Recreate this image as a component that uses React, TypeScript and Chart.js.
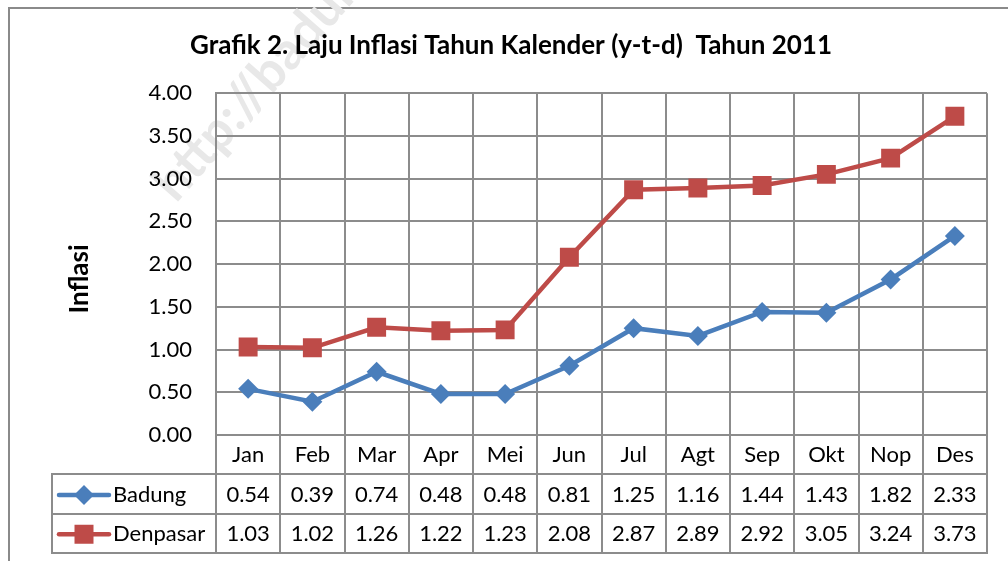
import React, { useEffect, useRef } from 'react';
import { Chart, registerables } from 'chart.js';

Chart.register(...registerables);

const months = ['Jan', 'Feb', 'Mar', 'Apr', 'Mei', 'Jun', 'Jul', 'Agt', 'Sep', 'Okt', 'Nop', 'Des'];
const badung = [0.54, 0.39, 0.74, 0.48, 0.48, 0.81, 1.25, 1.16, 1.44, 1.43, 1.82, 2.33];
const denpasar = [1.03, 1.02, 1.26, 1.22, 1.23, 2.08, 2.87, 2.89, 2.92, 3.05, 3.24, 3.73];
const seriesNames = ['Badung', 'Denpasar'];
const seriesColors = ['#4A7EBB', '#BE4B48'];
const yMin = 0;
const yMax = 4;
const yStep = 0.5;
const titleText = 'Grafik 2. Laju Inflasi Tahun Kalender (y-t-d)  Tahun 2011';
const yAxisTitle = 'Inflasi';
const watermarkText = 'http://badungkab.bps.go.id';

const FONT = 'Lato, "Open Sans", "Noto Sans", sans-serif';
const GRID = '#8c8c8c';
const ROW_H = 39.3;
const TXT = 22;
const PAD_LEFT = 35;

function drawMarker(ctx: CanvasRenderingContext2D, style: string, x: number, y: number, color: string) {
  ctx.save();
  ctx.fillStyle = color;
  ctx.beginPath();
  if (style === 'rect') {
    const s = 9.5;
    ctx.rect(x - s, y - s, 2 * s, 2 * s);
  } else {
    const r = 10;
    ctx.moveTo(x, y - r);
    ctx.lineTo(x + r, y);
    ctx.lineTo(x, y + r);
    ctx.lineTo(x - r, y);
    ctx.closePath();
  }
  ctx.fill();
  ctx.restore();
}

const framePlugin = {
  id: 'frameAndTable',
  beforeDraw(chart: any) {
    const ctx = chart.ctx as CanvasRenderingContext2D;
    ctx.save();
    ctx.fillStyle = '#ffffff';
    ctx.fillRect(0, 0, chart.width, chart.height);
    ctx.strokeStyle = '#8a8a8a';
    ctx.lineWidth = 2;
    ctx.beginPath();
    ctx.moveTo(9, chart.height);
    ctx.lineTo(9, 8);
    ctx.lineTo(chart.width, 8);
    ctx.stroke();

    // watermark (behind the plot)
    ctx.translate(176, 204);
    ctx.rotate(-0.85);
    ctx.font = `bold 52px ${FONT}`;
    ctx.fillStyle = '#e8e8e8';
    ctx.textAlign = 'left';
    ctx.textBaseline = 'alphabetic';
    ctx.fillText(watermarkText, 0, 0);
    ctx.restore();
  },
  afterDraw(chart: any) {
    const ctx = chart.ctx as CanvasRenderingContext2D;
    const xs = chart.scales.x;
    const area = chart.chartArea;
    const tableLeft = 52;
    const labelBottom = area.bottom + ROW_H;
    const row1Bottom = labelBottom + ROW_H;
    const row2Bottom = row1Bottom + ROW_H;
    ctx.save();
    ctx.strokeStyle = GRID;
    ctx.lineWidth = 2;
    ctx.beginPath();
    for (let i = 0; i <= months.length; i++) {
      const px = Math.round(xs.getPixelForValue(i - 0.5));
      ctx.moveTo(px, area.bottom);
      ctx.lineTo(px, row2Bottom);
    }
    ctx.moveTo(tableLeft, labelBottom);
    ctx.lineTo(tableLeft, row2Bottom);
    [labelBottom, row1Bottom, row2Bottom].forEach((yy) => {
      const py = Math.round(yy);
      ctx.moveTo(tableLeft - 1, py);
      ctx.lineTo(Math.round(xs.getPixelForValue(months.length - 0.5)) + 1, py);
    });
    ctx.stroke();

    const rows = [badung, denpasar];
    const styles = ['rectRot', 'rect'];
    ctx.font = `${TXT}px ${FONT}`;
    ctx.textBaseline = 'middle';
    rows.forEach((vals, r) => {
      const cy = labelBottom + ROW_H * r + ROW_H / 2 + 1;
      ctx.strokeStyle = seriesColors[r];
      ctx.lineWidth = 4.5;
      ctx.lineCap = 'round';
      ctx.beginPath();
      ctx.moveTo(59, cy);
      ctx.lineTo(109, cy);
      ctx.stroke();
      drawMarker(ctx, styles[r], 84, cy, seriesColors[r]);
      ctx.fillStyle = '#000';
      ctx.textAlign = 'left';
      ctx.fillText(seriesNames[r], 113, cy);
      ctx.textAlign = 'center';
      vals.forEach((v, i) => {
        ctx.fillText(v.toFixed(2), xs.getPixelForValue(i), cy);
      });
    });

    ctx.save();
    ctx.translate(80, 279);
    ctx.rotate(-Math.PI / 2);
    ctx.font = `bold 26px ${FONT}`;
    ctx.fillStyle = '#000';
    ctx.textAlign = 'center';
    ctx.textBaseline = 'middle';
    ctx.fillText(yAxisTitle, 0, 0);
    ctx.restore();

    ctx.restore();
  },
};

export default function App() {
  const ref = useRef<HTMLCanvasElement | null>(null);
  useEffect(() => {
    if (!ref.current) return;
    const chart = new Chart(ref.current, {
      type: 'line',
      data: {
        labels: months,
        datasets: [
          {
            label: seriesNames[0],
            data: badung,
            borderColor: seriesColors[0],
            backgroundColor: seriesColors[0],
            borderWidth: 4.5,
            pointStyle: 'rectRot',
            pointRadius: 10,
            pointBorderWidth: 0,
            pointHoverRadius: 10,
            tension: 0,
          },
          {
            label: seriesNames[1],
            data: denpasar,
            borderColor: seriesColors[1],
            backgroundColor: seriesColors[1],
            borderWidth: 4.5,
            pointStyle: 'rect',
            pointRadius: 13.4,
            pointBorderWidth: 0,
            pointHoverRadius: 13.4,
            tension: 0,
          },
        ],
      },
      options: {
        responsive: false,
        animation: false,
        devicePixelRatio: 1,
        layout: { padding: { left: PAD_LEFT, right: 21, top: 0, bottom: 0 } },
        plugins: {
          legend: { display: false },
          tooltip: { enabled: false },
          title: {
            display: true,
            text: titleText,
            color: '#000',
            font: { family: FONT, size: 26, weight: 'bold' },
            padding: { top: 30, bottom: 32 },
          },
        },
        scales: {
          x: {
            type: 'category',
            offset: true,
            grid: { display: true, color: GRID, lineWidth: 2, offset: true, drawTicks: false },
            border: { display: true, color: GRID, width: 2 },
            ticks: {
              color: '#000',
              font: { family: FONT, size: TXT },
              padding: 7,
              maxRotation: 0,
              autoSkip: false,
            },
            afterFit: (scale: any) => {
              scale.height = 126;
            },
          },
          y: {
            min: yMin,
            max: yMax,
            grid: { color: GRID, lineWidth: 2, drawTicks: false },
            border: { display: true, color: GRID, width: 2 },
            ticks: {
              stepSize: yStep,
              color: '#000',
              font: { family: FONT, size: TXT },
              padding: 24,
              callback: (v: any) => Number(v).toFixed(2),
            },
            afterFit: (scale: any) => {
              scale.width = 216 - PAD_LEFT;
            },
          },
        },
      },
      plugins: [framePlugin],
    });
    return () => chart.destroy();
  }, []);
  return (
    <div style={{ position: 'absolute', left: 0, top: 0, width: 1008, height: 561 }}>
      <canvas ref={ref} width={1008} height={561} style={{ display: 'block' }} />
    </div>
  );
}
